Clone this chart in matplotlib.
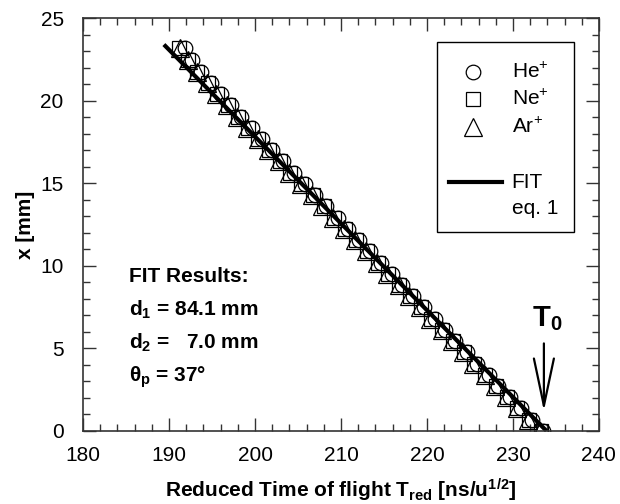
import matplotlib.pyplot as plt
from matplotlib.patches import Rectangle

plt.rcParams['font.family'] = ['Liberation Sans', 'DejaVu Sans']
plt.rcParams['mathtext.fontset'] = 'custom'
plt.rcParams['mathtext.rm'] = 'Liberation Sans'
plt.rcParams['mathtext.bf'] = 'Liberation Sans:bold'
plt.rcParams['mathtext.it'] = 'Liberation Sans:italic'
plt.rcParams['mathtext.default'] = 'regular'

# position x [mm] along the detector
x_mm = [0.0, 0.68, 1.36, 2.04, 2.72, 3.40, 4.08, 4.76, 5.44, 6.12, 6.80, 7.48,
        8.16, 8.84, 9.52, 10.20, 10.88, 11.56, 12.24, 12.92, 13.60, 14.28,
        14.96, 15.64, 16.32, 17.00, 17.68, 18.36, 19.04, 19.72, 20.40, 21.08,
        21.76, 22.44, 23.20]

# reduced time of flight [ns/u^1/2] per ion
t_he = [233.5, 232.2, 230.9, 229.7, 228.3, 227.2, 225.8, 224.7, 223.3, 222.1,
        220.9, 219.6, 218.4, 217.1, 215.9, 214.6, 213.4, 212.1, 210.8, 209.6,
        208.3, 207.0, 205.8, 204.5, 203.3, 202.0, 200.8, 199.6, 198.4, 197.2,
        196.0, 194.9, 193.7, 192.7, 191.8]
t_ne = [233.3, 231.9, 230.5, 229.3, 228.0, 226.8, 225.5, 224.3, 223.0, 221.8,
        220.5, 219.3, 218.0, 216.8, 215.5, 214.3, 213.0, 211.7, 210.5, 209.2,
        208.0, 206.7, 205.4, 204.1, 202.9, 201.6, 200.4, 199.2, 198.0, 196.8,
        195.6, 194.5, 193.3, 192.2, 191.1]
t_ar = [233.2, 231.8, 230.5, 229.2, 227.9, 226.7, 225.4, 224.2, 222.9, 221.7,
        220.4, 219.2, 217.9, 216.7, 215.4, 214.2, 212.9, 211.6, 210.4, 209.1,
        207.8, 206.6, 205.3, 204.0, 202.8, 201.5, 200.3, 199.1, 197.9, 196.7,
        195.5, 194.4, 193.2, 192.2, 191.3]

# fit line (eq. 1)
fit_t = [189.4, 233.9]
fit_x = [23.4, 0.0]

labels = ['He$^{{+}}$', 'Ne$^{{+}}$', 'Ar$^{{+}}$']
markers = ['o', 's', '^']
msizes = [10.5, 9.5, 12.5]

fig = plt.figure(figsize=(6.2, 5.04), dpi=100)
ax = fig.add_axes([0.134, 0.145, 0.832, 0.819])

for t, m, s in zip([t_he, t_ne, t_ar], markers, msizes):
    ax.plot(t, x_mm, linestyle='none', marker=m, markersize=s,
            markerfacecolor='none', markeredgecolor='black', markeredgewidth=0.9)

ax.plot(fit_t, fit_x, color='black', linewidth=3, solid_capstyle='butt')

ax.set_xlim(180, 240)
ax.set_ylim(0, 25)
ax.set_xticks(range(180, 241, 10))
ax.set_xticks(range(180, 241, 2), minor=True)
ax.set_yticks(range(0, 26, 5))
ax.set_yticks(range(0, 26, 1), minor=True)
ax.tick_params(which='both', direction='in', top=True, right=True,
               labelsize=15, width=1, color='#333333')
ax.tick_params(which='major', length=9.5)
ax.tick_params(which='minor', length=5)
ax.tick_params(axis='x', pad=11)
ax.tick_params(axis='y', pad=14)
for sp in ax.spines.values():
    sp.set_linewidth(1.2)
    sp.set_color('#333333')

ax.set_xlabel(r'Reduced Time of flight T$_{\mathbf{red}}$ [ns/u$^{\mathbf{1/2}}$]',
              fontsize=15, fontweight='bold', labelpad=8)
ax.set_ylabel('x [mm]', fontsize=15, fontweight='bold', labelpad=4)

# legend drawn by hand in axes coordinates
ax.add_patch(Rectangle((0.686, 0.482), 0.266, 0.460, transform=ax.transAxes,
                       facecolor='white', edgecolor='black', linewidth=1, zorder=5))
for m, s, lab, yy in zip(markers, msizes, labels, [0.869, 0.804, 0.736]):
    ax.plot([0.756], [yy], transform=ax.transAxes, marker=m, markersize=s,
            markerfacecolor='none', markeredgecolor='black', markeredgewidth=0.9,
            zorder=6)
    ax.text(0.831, yy, lab, transform=ax.transAxes, fontsize=15, va='center', zorder=6)
ax.plot([0.709, 0.812], [0.603, 0.603], transform=ax.transAxes, color='black',
        linewidth=3, zorder=6)
ax.text(0.831, 0.603, 'FIT', transform=ax.transAxes, fontsize=15, va='center', zorder=6)
ax.text(0.831, 0.540, 'eq. 1', transform=ax.transAxes, fontsize=15, va='center', zorder=6)

# fit results
res_lines = ['FIT Results:',
             r'd$_\mathbf{1}$ = 84.1 mm',
             r'd$_\mathbf{2}$ =   7.0 mm',
             r'θ$_\mathbf{p}$ = 37°']
for txt, yy in zip(res_lines, [0.375, 0.293, 0.213, 0.131]):
    ax.text(0.089, yy, txt, transform=ax.transAxes, fontsize=15,
            fontweight='bold', va='center')

# T0 marker
ax.annotate('', xy=(233.6, 1.2), xytext=(233.6, 5.3),
            arrowprops=dict(arrowstyle='->,head_length=1.7,head_width=0.36',
                            color='black', linewidth=1.6, mutation_scale=20,
                            shrinkA=0, shrinkB=0))
ax.text(234.0, 6.8, r'T$_\mathbf{0}$', fontsize=21, fontweight='bold',
        ha='center', va='center')

fig.savefig('out.png', dpi=100)
